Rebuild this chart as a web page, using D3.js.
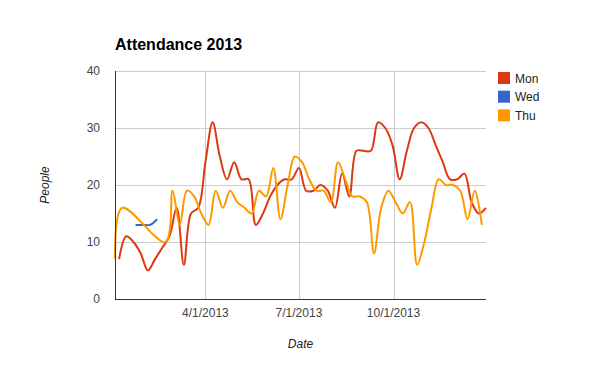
<!DOCTYPE html>
<html>
<head>
<meta charset="utf-8">
<script src="https://d3js.org/d3.v7.min.js"></script>
<style>
    body { margin: 0; background: #fff; }
    text { font-family: Arial, "Liberation Sans", sans-serif; }
</style>
</head>
<body>
<div id="chart"></div>
<script>
// data
const seriesNames = ["Mon", "Wed", "Thu"];
const seriesColors = ["#dc3912", "#3366cc", "#ff9900"];

const monDates = ["2013-01-07", "2013-01-14", "2013-01-21", "2013-01-28", "2013-02-04", "2013-02-11",
    "2013-02-18", "2013-02-25", "2013-03-04", "2013-03-11", "2013-03-18", "2013-03-25", "2013-04-01",
    "2013-04-08", "2013-04-15", "2013-04-22", "2013-04-29", "2013-05-06", "2013-05-13", "2013-05-20",
    "2013-05-27", "2013-06-03", "2013-06-10", "2013-06-17", "2013-06-24", "2013-07-01", "2013-07-08",
    "2013-07-15", "2013-07-22", "2013-07-29", "2013-08-05", "2013-08-12", "2013-08-19", "2013-08-26",
    "2013-09-02", "2013-09-09", "2013-09-16", "2013-09-23", "2013-09-30", "2013-10-07", "2013-10-14",
    "2013-10-21", "2013-10-28", "2013-11-04", "2013-11-11", "2013-11-18", "2013-11-25", "2013-12-02",
    "2013-12-09", "2013-12-16", "2013-12-23", "2013-12-30"];
const monValues = [7, 11, 10, 8, 5, 7,
    9, 11, 16, 6, 15, 16, 24,
    31, 25, 21, 24, 21, 21, 13,
    15, 18, 20, 21, 21, 23, 19,
    19, 20, 19, 16, 22, 18, 26,
    26, 26, 31, 30, 27, 21, 26,
    30, 31, 30, 27, 24, 21, 21,
    22, 17, 15, 16];

const wedDates = ["2013-01-23", "2013-01-30", "2013-02-06", "2013-02-13"];
const wedValues = [13, 13, 13, 14];

const thuDates = ["2013-01-03", "2013-01-10", "2013-02-21", "2013-02-28", "2013-03-07", "2013-03-14",
    "2013-03-21", "2013-03-28", "2013-04-04", "2013-04-11", "2013-04-18", "2013-04-25", "2013-05-02",
    "2013-05-09", "2013-05-16", "2013-05-23", "2013-05-30", "2013-06-06", "2013-06-13", "2013-06-20",
    "2013-06-27", "2013-07-04", "2013-07-11", "2013-07-18", "2013-07-25", "2013-08-01", "2013-08-08",
    "2013-08-15", "2013-08-22", "2013-08-29", "2013-09-05", "2013-09-12", "2013-09-19", "2013-09-26",
    "2013-10-03", "2013-10-10", "2013-10-17", "2013-10-24", "2013-10-31", "2013-11-07", "2013-11-14",
    "2013-11-21", "2013-11-28", "2013-12-05", "2013-12-12", "2013-12-19", "2013-12-26"];
const thuValues = [7, 16, 10, 19, 13, 19,
    18, 15, 13, 19, 16, 19, 17,
    16, 15, 19, 18, 23, 14, 20,
    25, 24, 21, 19, 19, 17, 24,
    21, 18, 18, 17, 8, 16, 19,
    17, 15, 17, 6, 10, 16, 21,
    20, 20, 19, 14, 19, 13];

const yTicks = [0, 10, 20, 30, 40];
const xTickDates = ["2013-04-01", "2013-07-01", "2013-10-01"];

let canvasWidth = 600;
let canvasHeight = 371;
let plotLeft = 115, plotRight = 486, plotTop = 71, plotBottom = 299;

let parseDate = d3.timeParse("%Y-%m-%d");
let formatDate = d3.timeFormat("%-m/%-d/%Y");

let series = [
    { name: seriesNames[0], color: seriesColors[0], points: monDates.map((d, i) => ({ date: parseDate(d), value: monValues[i] })) },
    { name: seriesNames[1], color: seriesColors[1], points: wedDates.map((d, i) => ({ date: parseDate(d), value: wedValues[i] })) },
    { name: seriesNames[2], color: seriesColors[2], points: thuDates.map((d, i) => ({ date: parseDate(d), value: thuValues[i] })) }
];

let allPoints = series.flatMap(s => s.points);

let svg = d3.select("#chart")
    .append("svg")
    .attr("width", canvasWidth)
    .attr("height", canvasHeight);

svg.append("rect")
    .attr("fill", "#fff")
    .attr("width", "100%")
    .attr("height", "100%");

let xScale = d3.scaleTime()
    .domain(d3.extent(allPoints, d => d.date))
    .range([plotLeft, plotRight]);

let yScale = d3.scaleLinear()
    .domain([0, 40])
    .range([plotBottom, plotTop]);

// horizontal grid lines
svg.append("g")
    .selectAll("line")
    .data(yTicks.slice(1))
    .join("line")
    .attr("x1", plotLeft)
    .attr("x2", plotRight)
    .attr("y1", d => yScale(d) + 0.5)
    .attr("y2", d => yScale(d) + 0.5)
    .attr("stroke", "#cccccc");

// vertical grid lines
svg.append("g")
    .selectAll("line")
    .data(xTickDates.map(parseDate))
    .join("line")
    .attr("x1", d => Math.round(xScale(d)) + 0.5)
    .attr("x2", d => Math.round(xScale(d)) + 0.5)
    .attr("y1", plotTop)
    .attr("y2", plotBottom)
    .attr("stroke", "#cccccc");

// y tick labels
svg.append("g")
    .selectAll("text")
    .data(yTicks)
    .join("text")
    .attr("x", 100)
    .attr("y", d => yScale(d) + 4)
    .attr("text-anchor", "end")
    .attr("font-size", 12)
    .attr("fill", "#444")
    .text(d => d);

// x tick labels
svg.append("g")
    .selectAll("text")
    .data(xTickDates.map(parseDate))
    .join("text")
    .attr("x", d => xScale(d))
    .attr("y", 317)
    .attr("text-anchor", "middle")
    .attr("font-size", 12)
    .attr("fill", "#444")
    .text(d => formatDate(d));

// lines
let line = d3.line()
    .x(d => xScale(d.date))
    .y(d => yScale(d.value))
    .curve(d3.curveCatmullRom.alpha(0.5));

svg.append("g")
    .selectAll("path")
    .data(series)
    .join("path")
    .attr("fill", "none")
    .attr("stroke", d => d.color)
    .attr("stroke-width", 2)
    .attr("stroke-linejoin", "round")
    .attr("d", d => line(d.points));

// axis lines
svg.append("line")
    .attr("x1", plotLeft + 0.5).attr("x2", plotLeft + 0.5)
    .attr("y1", plotTop).attr("y2", plotBottom + 1)
    .attr("stroke", "#333");
svg.append("line")
    .attr("x1", plotLeft).attr("x2", plotRight)
    .attr("y1", plotBottom + 0.5).attr("y2", plotBottom + 0.5)
    .attr("stroke", "#333");

// title
svg.append("text")
    .attr("x", plotLeft)
    .attr("y", 50)
    .attr("font-size", 16)
    .attr("font-weight", "bold")
    .attr("fill", "#000")
    .text("Attendance 2013");

// axis titles
svg.append("text")
    .attr("x", (plotLeft + plotRight) / 2)
    .attr("y", 348)
    .attr("text-anchor", "middle")
    .attr("font-size", 12)
    .attr("font-style", "italic")
    .attr("fill", "#222")
    .text("Date");

svg.append("text")
    .attr("text-anchor", "middle")
    .attr("transform", "translate(49, " + ((plotTop + plotBottom) / 2) + ") rotate(-90)")
    .attr("font-size", 12)
    .attr("font-style", "italic")
    .attr("fill", "#222")
    .text("People");

// legend
let legend = svg.append("g")
    .selectAll("g")
    .data(series)
    .join("g")
    .attr("transform", (d, i) => "translate(498, " + (72 + i * 18.7) + ")");

legend.append("rect")
    .attr("width", 12)
    .attr("height", 12)
    .attr("fill", d => d.color);

legend.append("text")
    .attr("x", 17)
    .attr("y", 10.5)
    .attr("font-size", 12)
    .attr("fill", "#222")
    .text(d => d.name);
</script>
</body>
</html>
